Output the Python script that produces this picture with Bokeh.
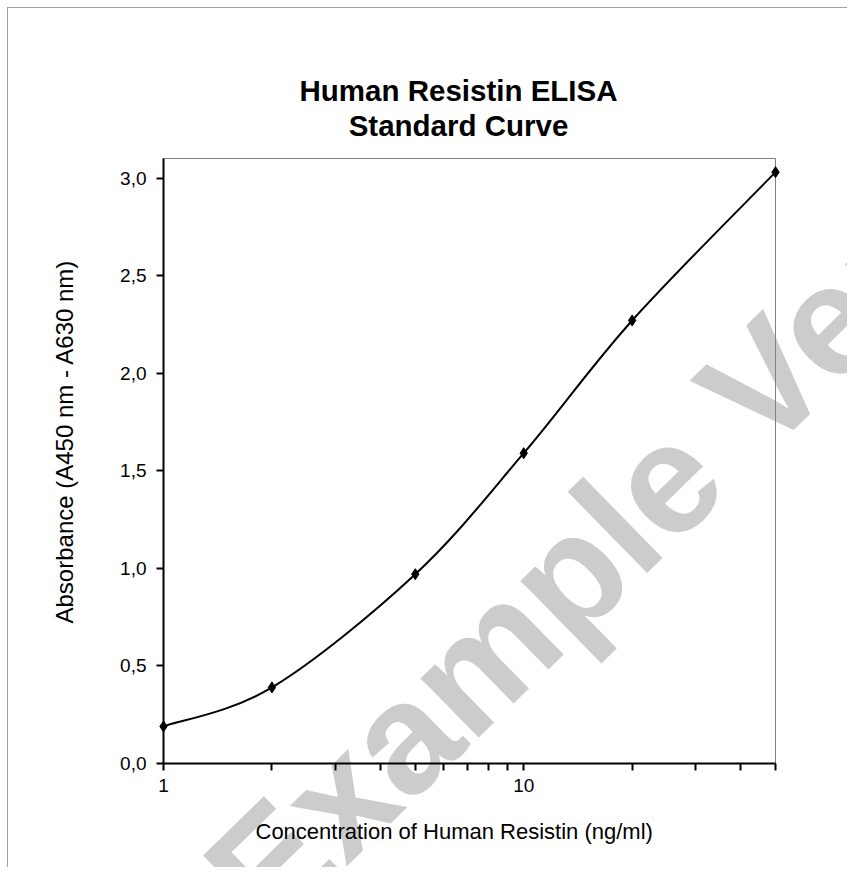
import math
from bokeh.plotting import figure
from bokeh.layouts import column
from bokeh.models import FixedTicker, CustomJSTickFormatter, Label, Range1d, Title
from bokeh.embed import file_html
from bokeh.resources import INLINE

# ---- data ----
conc = [1, 2, 5, 10, 20, 50]
absorbance = [0.19, 0.39, 0.97, 1.59, 2.27, 3.03]
y_ticks = [0.0, 0.5, 1.0, 1.5, 2.0, 2.5, 3.0]
x_major_ticks = [1, 10]
x_minor_ticks = [2, 3, 4, 5, 6, 7, 8, 9, 20, 30, 40, 50]
title_line1 = "Human Resistin ELISA"
title_line2 = "Standard Curve"
x_label = "Concentration of Human Resistin (ng/ml)"
y_label = "Absorbance (A450 nm - A630 nm)"
watermark = "Example Version"

FONT = "Liberation Sans"
W, H = 839, 859

# ---- background figure: watermark + chart title (frame = whole canvas) ----
bg = figure(width=W, height=H, x_range=Range1d(0, W), y_range=Range1d(0, H),
            output_backend="svg", toolbar_location=None,
            min_border=0, min_border_left=0, min_border_right=0,
            min_border_top=0, min_border_bottom=0,
            x_axis_location=None, y_axis_location=None)
bg.grid.visible = False
bg.outline_line_color = None
bg.border_fill_color = "white"
bg.background_fill_color = "white"
wm = Label(x=674, y=454, x_units="canvas", y_units="canvas", text=watermark,
           angle=math.radians(44.3),
           text_align="center", text_baseline="alphabetic",
           text_font=FONT, text_font_style="bold",
           text_font_size="157px", text_color="#cccccc")
bg.add_layout(wm)
for txt, ty in ((title_line1, 82), (title_line2, 117)):
    bg.add_layout(Label(x=450, y=ty, x_units="canvas", y_units="canvas", text=txt,
                        text_align="center", text_baseline="middle",
                        text_font=FONT, text_font_style="bold",
                        text_font_size="29.5px", text_color="black"))

# ---- main chart (transparent, on top) ----
p = figure(width=W, height=H, x_axis_type="log",
           x_range=Range1d(1, 50), y_range=Range1d(0, 3.1),
           output_backend="svg", toolbar_location=None,
           min_border_left=155, min_border_top=150,
           min_border_right=72, min_border_bottom=104)
p.styles = {"position": "absolute", "top": "0px", "left": "0px"}

p.grid.visible = False
p.outline_line_color = "#808080"
p.outline_line_width = 1
p.background_fill_alpha = 0
p.border_fill_alpha = 0
p.title.visible = False

# axis titles
xt = Title(text=x_label, align="left", offset=92, text_font=FONT,
           text_font_size="22px", text_font_style="normal",
           text_color="black", standoff=45)
p.add_layout(xt, "below")
yt = Title(text=y_label, align="left", offset=140, text_font=FONT,
           text_font_size="24px", text_font_style="normal",
           text_color="black", standoff=79)
p.add_layout(yt, "left")

# axes
xa = p.xaxis[0]
xa.ticker = FixedTicker(ticks=x_major_ticks, minor_ticks=x_minor_ticks)
xa.formatter = CustomJSTickFormatter(code="return String(tick);")
ya = p.yaxis[0]
ya.ticker = FixedTicker(ticks=y_ticks)
ya.formatter = CustomJSTickFormatter(code="return tick.toFixed(1).replace('.', ',');")
for ax in (xa, ya):
    ax.axis_line_color = "black"
    ax.axis_line_width = 2
    ax.major_tick_line_color = "black"
    ax.major_tick_line_width = 2
    ax.major_tick_in = 0
    ax.major_tick_out = 7
    ax.minor_tick_line_color = "black"
    ax.minor_tick_line_width = 2
    ax.minor_tick_in = 0
    ax.minor_tick_out = 7
    ax.major_label_text_font = FONT
    ax.major_label_text_font_size = "19px"
    ax.major_label_text_color = "black"
xa.major_label_standoff = 8
ya.major_label_standoff = 10

# smooth curve (Catmull-Rom -> cubic Bezier in log-x space)
lx = [math.log10(v) for v in conc]
n = len(conc)
x0, y0, x1, y1, cx0, cy0, cx1, cy1 = [], [], [], [], [], [], [], []
for i in range(n - 1):
    pm = i - 1 if i > 0 else i
    pn = i + 2 if i + 2 < n else i + 1
    ax_, ay_ = lx[i], absorbance[i]
    bx_, by_ = lx[i + 1], absorbance[i + 1]
    c0x = ax_ + (bx_ - lx[pm]) / 6.0
    c0y = ay_ + (by_ - absorbance[pm]) / 6.0
    c1x = bx_ - (lx[pn] - ax_) / 6.0
    c1y = by_ - (absorbance[pn] - ay_) / 6.0
    x0.append(conc[i]); y0.append(ay_)
    x1.append(conc[i + 1]); y1.append(by_)
    cx0.append(10 ** c0x); cy0.append(c0y)
    cx1.append(10 ** c1x); cy1.append(c1y)
curve = p.bezier(x0=x0, y0=y0, x1=x1, y1=y1, cx0=cx0, cy0=cy0, cx1=cx1, cy1=cy1,
                 line_color="black", line_width=2)
pts = p.scatter(conc, absorbance, marker="diamond", size=11, color="black")
curve.level = "overlay"
pts.level = "overlay"

root = column(column(bg), p)
root.styles = {"position": "relative", "margin-left": "7px", "margin-top": "7px",
               "border-left": "1px solid #a0a0a0", "border-top": "1px solid #a0a0a0"}

open("out.html", "w").write(file_html(root, INLINE))
